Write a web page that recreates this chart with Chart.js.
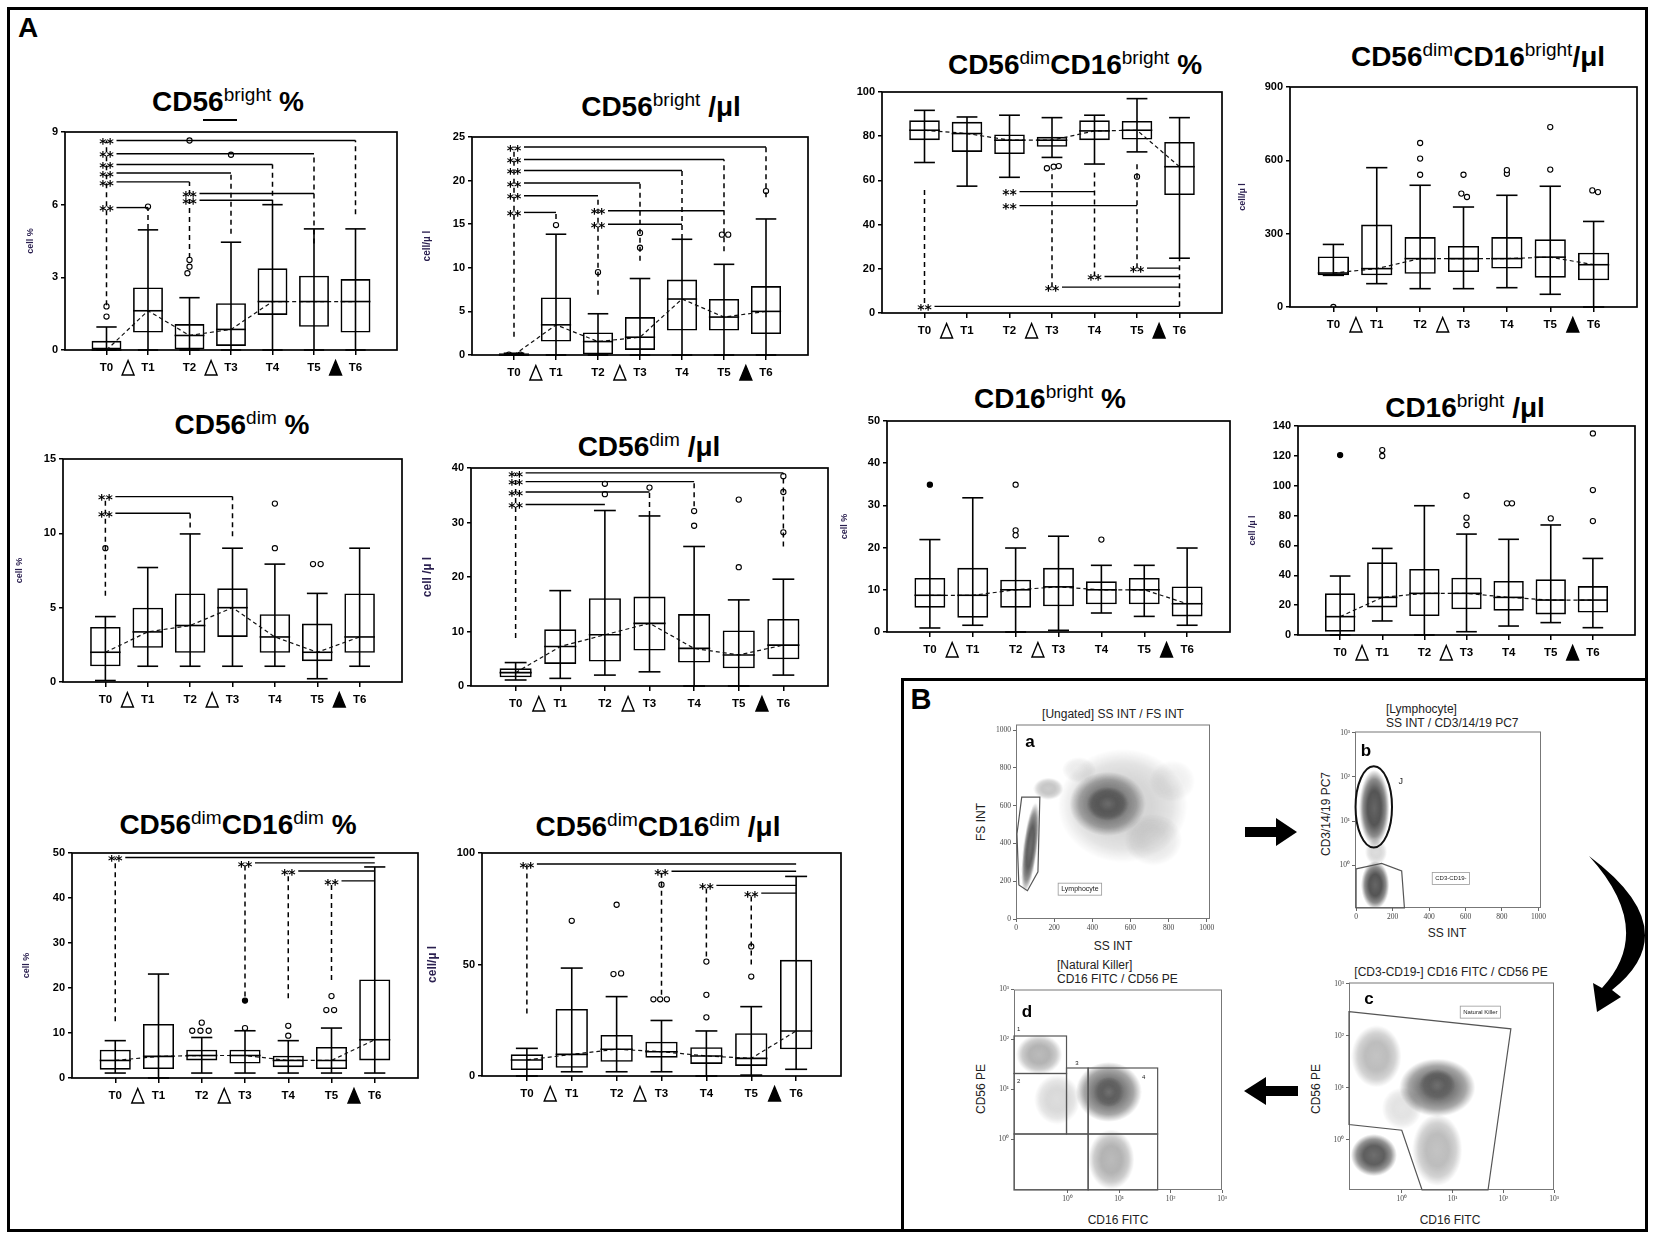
<!DOCTYPE html>
<html><head><meta charset="utf-8">
<script src="https://cdn.jsdelivr.net/npm/chart.js@4.4.1/dist/chart.umd.min.js"></script>
<style>
body{margin:0;background:#fff;width:1654px;height:1234px;position:relative;overflow:hidden;font-family:'Liberation Sans',Arial,sans-serif;}
.t{position:absolute;white-space:nowrap;line-height:1;transform:translate(-50%,-50%);color:#000}
.title{font-weight:bold;font-size:28px}
.title sup{font-size:0.68em;font-weight:normal;vertical-align:0;position:relative;top:-0.5em;line-height:0}
.ft{font-family:'Liberation Sans Narrow','Liberation Sans',sans-serif;font-size:12px;color:#222}
.lt{position:absolute;white-space:nowrap;line-height:1.15;font-family:'Liberation Sans Narrow','Liberation Sans',sans-serif;font-size:12px;color:#222}
</style></head><body>
<div style="position:absolute;left:7px;top:7px;width:1641px;height:1225px;border:3px solid #000;box-sizing:border-box"></div>
<div style="position:absolute;left:901px;top:678px;width:747px;height:554px;border:3px solid #000;box-sizing:border-box"></div>
<div class="t" style="left:28px;top:28px;font-weight:bold;font-size:28px">A</div>
<div class="t" style="left:921px;top:699px;font-weight:bold;font-size:29px">B</div>

<div class="t title" style="left:228px;top:102px">CD56<sup>bright</sup> %</div>
<div style="position:absolute;left:203px;top:119px;width:34px;height:2px;background:#000"></div>
<div class="t title" style="left:661px;top:107px">CD56<sup>bright</sup> /μl</div>
<div class="t title" style="left:1075px;top:65px">CD56<sup>dim</sup>CD16<sup>bright</sup> %</div>
<div class="t title" style="left:1478px;top:57px">CD56<sup>dim</sup>CD16<sup>bright</sup>/μl</div>
<div class="t title" style="left:242px;top:425px">CD56<sup>dim</sup> %</div>
<div class="t title" style="left:649px;top:447px">CD56<sup>dim</sup> /μl</div>
<div class="t title" style="left:1050px;top:399px">CD16<sup>bright</sup> %</div>
<div class="t title" style="left:1465px;top:408px">CD16<sup>bright</sup> /μl</div>
<div class="t title" style="left:238px;top:825px">CD56<sup>dim</sup>CD16<sup>dim</sup> %</div>
<div class="t title" style="left:658px;top:827px">CD56<sup>dim</sup>CD16<sup>dim</sup> /μl</div>

<div class="t ft" style="left:1113px;top:714px">[Ungated] SS INT / FS INT</div>
<div class="lt" style="left:1386px;top:703px">[Lymphocyte]<br>SS INT / CD3/14/19 PC7</div>
<div class="t ft" style="left:1451px;top:972px">[CD3-CD19-] CD16 FITC / CD56 PE</div>
<div class="lt" style="left:1057px;top:959px">[Natural Killer]<br>CD16 FITC / CD56 PE</div>
<div class="t ft" style="left:1113px;top:946px">SS INT</div>
<div class="t ft" style="left:1447px;top:933px">SS INT</div>
<div class="t ft" style="left:1450px;top:1220px">CD16 FITC</div>
<div class="t ft" style="left:1118px;top:1220px">CD16 FITC</div>
<div class="t ft" style="left:981px;top:822px;transform:translate(-50%,-50%) rotate(-90deg)">FS INT</div>
<div class="t ft" style="left:1326px;top:814px;transform:translate(-50%,-50%) rotate(-90deg)">CD3/14/19 PC7</div>
<div class="t ft" style="left:1316px;top:1089px;transform:translate(-50%,-50%) rotate(-90deg)">CD56 PE</div>
<div class="t ft" style="left:981px;top:1089px;transform:translate(-50%,-50%) rotate(-90deg)">CD56 PE</div>
<div class="t" style="left:1030px;top:741px;font-weight:bold;font-size:17px;z-index:2">a</div>
<div class="t" style="left:1366px;top:750px;font-weight:bold;font-size:17px;z-index:2">b</div>
<div class="t" style="left:1369px;top:998px;font-weight:bold;font-size:17px;z-index:2">c</div>
<div class="t" style="left:1027px;top:1011px;font-weight:bold;font-size:17px;z-index:2">d</div>

<svg style="position:absolute;left:0;top:0" width="1654" height="1234">
  <path d="M1245,827 L1276,827 L1276,818 L1297,832 L1276,846 L1276,837 L1245,837 Z" fill="#000"/>
  <path d="M1298,1086 L1266,1086 L1266,1077 L1244,1091 L1266,1105 L1266,1096 L1298,1096 Z" fill="#000"/>
  <path d="M1589,856 Q1688,930 1612,990 L1621,997 L1597,1012 L1593,983 L1602,988 Q1656,930 1589,856 Z" fill="#000"/>
</svg>

<script>
// ---------- shared categories ----------
const categories = ['T0','T1','T2','T3','T4','T5','T6'];
const treatAfter = [0, 2, 5];
const treatFilled = [false, false, true];

// ---------- CD56bright % ----------
const bPct_q1 = [0,0.72,0,0.17,1.45,0.96,0.72];
const bPct_med = [0,1.62,0.6,0.85,2.0,2.0,2.0];
const bPct_q3 = [0.38,2.58,1.07,1.93,3.37,3.07,2.93];
const bPct_lo = [0,0,0,0,0,0,0];
const bPct_hi = [0.95,4.96,2.16,4.45,6.0,5.0,5.0];
const bPct_outX = [0,0,1,1.95,2,2,2,3];
const bPct_outY = [1.38,1.8,5.92,3.17,3.44,3.72,8.65,8.06];
const bPct_sigFrom = [0,0,0,0,0,0,2,2];
const bPct_sigTo = [6,5,4,3,2,1,5,4];
const bPct_sigY = [8.65,8.1,7.66,7.31,6.94,5.88,6.46,6.18];
const bPct_dashX = [0,1,2,3,4,5,6];
const bPct_dashY1 = [1.85,5.0,3.8,4.8,6.0,4.4,5.6];
const bPct_dashY2 = [8.65,5.88,6.94,7.31,7.66,8.1,8.65];

// ---------- CD56bright /ul ----------
const bAbs_q1 = [0,1.54,0,0.58,2.8,2.8,2.4];
const bAbs_med = [0,3.46,1.54,2.04,6.42,4.35,5.0];
const bAbs_q3 = [0.2,6.6,2.58,4.35,8.65,6.42,7.9];
const bAbs_lo = [0,0,0,0,0,0,0];
const bAbs_hi = [0.2,13.85,4.73,8.77,13.27,10.4,15.6];
const bAbs_outX = [-0.12,0.15,1,2,3,3,4.95,5.1,6];
const bAbs_outY = [0.05,0.05,14.9,9.5,12.3,14.0,13.8,13.8,18.8];
const bAbs_sigFrom = [0,0,0,0,0,0,2,2];
const bAbs_sigTo = [6,5,4,3,2,1,5,4];
const bAbs_sigY = [23.85,22.42,21.15,19.73,18.27,16.35,16.54,15.0];
const bAbs_dashX = [0,1,2,3,4,5,6];
const bAbs_dashY1 = [2.1,15.6,6.9,10.8,13.3,11.9,18.1];
const bAbs_dashY2 = [23.85,16.35,18.27,19.73,21.15,22.42,23.85];

// ---------- CD56dimCD16bright % ----------
const dbPct_q1 = [78.2,72.9,71.9,75.2,78.2,78.5,53.4];
const dbPct_med = [82.7,81.2,78.2,78.2,82.4,82.7,66.2];
const dbPct_q3 = [87.2,86.5,80.8,79.7,87.2,86.9,77.4];
const dbPct_lo = [68.1,57.4,61.4,70.4,67.4,72.9,24.8];
const dbPct_hi = [91.7,88.7,89.5,88.4,89.5,97.0,88.4];
const dbPct_outX = [2.88,3.04,3.16,5];
const dbPct_outY = [65.5,66.2,66.5,61.7];
const dbPct_sigFrom = [2,2,5,4,3,0];
const dbPct_sigTo = [4,5,6,6,6,6];
const dbPct_sigY = [54.9,48.6,20.3,16.5,11.7,3.0];
const dbPct_dashX = [0,3,4,5,6];
const dbPct_dashY1 = [4.5,11.7,16.5,20.3,3.0];
const dbPct_dashY2 = [57,64.7,65.4,67.7,24.8];

// ---------- CD56dimCD16bright /ul ----------
const dbAbs_q1 = [129.5,129.5,136,143,157,120,109];
const dbAbs_med = [139,157,198,198,198,204,173];
const dbAbs_q3 = [207,337,286,250,286,277,222];
const dbAbs_lo = [129.5,95.5,75,75,79,52,0];
const dbAbs_hi = [256,570,498,409,457,494,350];
const dbAbs_outX = [0,2,2,2,3,2.95,3.08,4,4,5,5,5.97,6.1];
const dbAbs_outY = [0,671,607,541,541,464,450,545,560,736,562,477,470];

// ---------- CD56dim % ----------
const dPct_q1 = [1.06,2.3,1.96,3.03,1.96,1.4,1.96];
const dPct_med = [2.0,3.37,3.8,5.0,3.03,2.0,3.03];
const dPct_q3 = [3.7,5.0,5.96,6.3,4.56,3.93,5.96];
const dPct_lo = [0.1,1.06,1.06,1.06,1.06,0.22,1.06];
const dPct_hi = [4.4,7.7,9.96,9.0,7.93,5.96,9.0];
const dPct_outX = [0,4,4,4.9,5.08];
const dPct_outY = [9.0,12.0,9.0,7.93,7.93];
const dPct_sigFrom = [0,0];
const dPct_sigTo = [3,2];
const dPct_sigY = [12.47,11.35];
const dPct_dashX = [0,2,3];
const dPct_dashY1 = [5.8,10.4,9.8];
const dPct_dashY2 = [12.47,11.35,12.47];

// ---------- CD56dim /ul ----------
const dAbs_q1 = [1.6,4.05,4.5,6.5,4.3,3.25,4.9];
const dAbs_med = [2.45,7.24,9.4,11.5,6.9,5.7,7.5];
const dAbs_q3 = [3.25,10.4,16.1,16.4,13.2,10.2,12.3];
const dAbs_lo = [1.1,1.4,2.0,2.6,0,0,2.0];
const dAbs_hi = [4.3,17.5,32.2,31.2,25.6,15.8,19.6];
const dAbs_outX = [2,2,3,4,4,5,5,6,6,6];
const dAbs_outY = [37.1,35.2,36.4,32.1,29.4,34.2,21.8,38.5,35.6,28.2];
const dAbs_sigFrom = [0,0,0,0];
const dAbs_sigTo = [6,4,3,2];
const dAbs_sigY = [39.1,37.5,35.6,33.3];
const dAbs_dashX = [0,3,4,6];
const dAbs_dashY1 = [8.8,31.2,33.0,25.6];
const dAbs_dashY2 = [39.1,35.6,37.5,39.1];

// ---------- CD16bright % ----------
const b16Pct_q1 = [5.77,3.4,5.77,6.1,6.56,6.56,3.7];
const b16Pct_med = [8.7,8.7,10.0,10.7,10.0,10.0,6.7];
const b16Pct_q3 = [12.8,15.2,12.4,15.2,12.0,12.8,10.8];
const b16Pct_lo = [0.95,1.6,0,0.4,4.5,3.7,1.6];
const b16Pct_hi = [21.9,31.8,19.9,22.7,15.8,15.8,19.9];
const b16Pct_outX = [0,2,2,2,4];
const b16Pct_outY = [34.9,34.9,24.1,22.9,21.9];
const b16Pct_outF = [1,0,0,0,0];

// ---------- CD16bright /ul ----------
const b16Abs_q1 = [2.2,18.5,12.7,17.2,16.3,13.8,15.0];
const b16Abs_med = [12.3,25.2,27.9,27.9,25.2,23.4,23.4];
const b16Abs_q3 = [27.9,48.7,44.2,38.4,36.2,37.3,32.8];
const b16Abs_lo = [0,9.4,0,2.2,6.0,8.3,4.9];
const b16Abs_hi = [39.5,58,86.6,67.6,64.1,73.7,51.3];
const b16Abs_outX = [0,1,1,3,3,3,3.96,4.08,5,6,6,6];
const b16Abs_outY = [120.5,123.9,119.9,93.3,78.6,73.7,88.2,88.2,78.1,135,97.1,76.3];
const b16Abs_outF = [1,0,0,0,0,0,0,0,0,0,0,0];

// ---------- CD56dimCD16dim % ----------
const ddPct_q1 = [1.85,2.0,3.9,3.2,2.4,2.0,3.9];
const ddPct_med = [3.9,4.8,5.0,5.0,3.9,3.9,8.5];
const ddPct_q3 = [6.3,12.0,6.3,6.3,4.95,6.9,21.9];
const ddPct_lo = [1.1,0,1.1,1.1,1.1,1.1,1.1];
const ddPct_hi = [8.3,23.1,9.0,10.5,8.3,11.1,46.9];
const ddPct_outX = [2,1.78,1.97,2.16,3,3,4,4,5,4.88,5.06];
const ddPct_outY = [12.3,10.5,10.5,10.5,11.1,17.2,11.6,9.4,18.2,15.1,15.1];
const ddPct_outF = [0,0,0,0,0,1,0,0,0,0,0];
const ddPct_sigFrom = [0,3,4,5];
const ddPct_sigTo = [6,6,6,6];
const ddPct_sigY = [49.0,47.8,46.0,43.8];
const ddPct_dashX = [0,3,4,5];
const ddPct_dashY1 = [12.6,18.1,17.7,21.8];
const ddPct_dashY2 = [49.0,47.8,46.0,43.8];

// ---------- CD56dimCD16dim /ul ----------
const ddAbs_q1 = [2.7,3.7,6.4,8.2,5.4,4.5,12.0];
const ddAbs_med = [7.2,9.7,12.0,10.9,9.0,7.9,20.2];
const ddAbs_q3 = [9.7,30.1,18.4,15.4,12.9,19.2,52.1];
const ddAbs_lo = [0,1.9,1.9,1.9,0,0.4,3.0];
const ddAbs_hi = [12.4,48.4,35.6,24.9,20.2,31.1,89.5];
const ddAbs_outX = [1,2,1.93,2.1,2.82,2.97,3.12,3,4,4,4,5,5];
const ddAbs_outY = [69.6,76.8,45.7,46,34.4,34.4,34.4,85.8,26.3,36.4,51.3,44.6,58.1];
const ddAbs_sigFrom = [0,3,4,5];
const ddAbs_sigTo = [6,6,6,6];
const ddAbs_sigY = [95.1,91.8,85.5,82.0];
const ddAbs_dashX = [0,3,4,5];
const ddAbs_dashY1 = [28,36.4,53.6,50];
const ddAbs_dashY2 = [95.1,91.8,85.5,82.0];

// ---------- Flow cytometry (panel B) ----------
const flowLinTicks = [0,200,400,600,800,1000];
const flowLogTicks = [0,1,2,3];
const flowLogLabels = ['10⁰','10¹','10²','10³'];

const flowA_cx = [560,480,480,170,75,720,820,330];
const flowA_cy = [600,610,610,690,380,420,730,790];
const flowA_sx = [340,200,110,80,38,150,120,90];
const flowA_sy = [300,170,90,60,240,140,110,70];
const flowA_d  = [.22,.6,.55,.3,.85,.12,.08,.1];
const flowA_rot = [0,0,0,0,7,0,0,0];
const gateA_x = [30,125,115,60,15,5];
const gateA_y = [645,645,250,150,180,450];

const flowB_cx = [100,105,110];
const flowB_cy = [1.3,-0.45,0.3];
const flowB_sx = [80,75,60];
const flowB_sy = [0.85,0.55,0.3];
const flowB_d  = [.9,.9,.2];
const flowB_rot = [0,0,0];
const gateB_ellipse = [97,1.32,100,0.92];
const gateB_x = [0,140,250,265,0];
const gateB_y = [-0.085,0.04,-0.13,-0.97,-0.97];

const flowC_cx = [0.7,0.7,-0.55,-0.5,0.7,0.0];
const flowC_cy = [1.0,1.05,-0.3,1.6,-0.2,0.6];
const flowC_sx = [0.75,0.35,0.45,0.5,0.5,0.4];
const flowC_sy = [0.55,0.3,0.4,0.6,0.7,0.4];
const flowC_d  = [.7,.45,.85,.35,.35,.15];
const flowC_rot = [0,0,0,0,0,0];
const gateC_x = [-1.04,2.15,1.7,0.4,0,-1.04];
const gateC_y = [2.46,2.13,-0.97,-0.97,0.18,0.29];

const flowD_cx = [0.8,0.8,-0.55,-0.2,0.85];
const flowD_cy = [0.95,0.95,1.7,0.8,-0.4];
const flowD_sx = [0.65,0.3,0.45,0.45,0.45];
const flowD_sy = [0.6,0.3,0.4,0.5,0.6];
const flowD_d  = [.7,.45,.4,.2,.4];
const flowD_rot = [0,0,0,0,0];
const gateD_x1 = [-1.04,-1.04,-0.02,0.4,0.4,-1.04];
const gateD_x2 = [-0.02,-0.02,0.4,1.75,1.75,0.4];
const gateD_y1 = [1.32,0.11,0.11,0.11,-1.01,-1.01];
const gateD_y2 = [2.07,1.32,1.43,1.43,0.11,0.11];

// ================= drawing =================
const PL=60, PT=12, PR=15, PB=33;
function addCanvas(l,t,w,h){
  const d=document.createElement('div');
  d.style.cssText=`position:absolute;left:${l}px;top:${t}px;width:${w}px;height:${h}px`;
  const c=document.createElement('canvas'); d.appendChild(c); document.body.appendChild(d); return c;
}

const boxExtras = {
  id:'boxExtras',
  afterDraw(chart, args, o){
    const {ctx, chartArea:a, scales:{x, y}} = chart;
    const px=v=>x.getPixelForValue(v), py=v=>y.getPixelForValue(v);
    ctx.save();
    ctx.strokeStyle='#000'; ctx.fillStyle='#000'; ctx.setLineDash([]);
    const bw=(px(1)-px(0))*0.72, cw=bw*0.68;
    ctx.lineWidth=1.6;
    o.lo.forEach((lo,i)=>{
      const X=px(i), Yl=py(lo), Yh=py(o.hi[i]), Ym=py(o.med[i]);
      ctx.beginPath(); ctx.moveTo(X,Yl); ctx.lineTo(X,Yh); ctx.stroke();
      ctx.beginPath(); ctx.moveTo(X-cw/2,Yh); ctx.lineTo(X+cw/2,Yh); ctx.stroke();
      ctx.beginPath(); ctx.moveTo(X-cw/2,Yl); ctx.lineTo(X+cw/2,Yl); ctx.stroke();
      ctx.beginPath(); ctx.moveTo(X-bw/2,Ym); ctx.lineTo(X+bw/2,Ym); ctx.stroke();
    });
    ctx.font='bold 14px "DejaVu Sans"'; ctx.textAlign='center'; ctx.textBaseline='middle';
    (o.sigFrom||[]).forEach((f,k)=>{
      const X1=px(f), X2=px(o.sigTo[k]), Y=py(o.sigY[k]);
      ctx.fillText('**', X1, Y+4);
      ctx.lineWidth=1.4; ctx.beginPath(); ctx.moveTo(X1+10,Y); ctx.lineTo(X2,Y); ctx.stroke();
    });
    ctx.setLineDash([5,4]); ctx.lineWidth=1.5;
    (o.dashX||[]).forEach((dx,k)=>{
      const X=px(dx); ctx.beginPath(); ctx.moveTo(X,py(o.dashY1[k])); ctx.lineTo(X,py(o.dashY2[k])); ctx.stroke();
    });
    ctx.setLineDash([]);
    ctx.lineWidth=1.7; ctx.strokeRect(a.left, a.top, a.right-a.left, a.bottom-a.top);
    const ty=a.bottom+18;
    treatAfter.forEach((t,k)=>{
      const X=px(t+0.52);
      ctx.beginPath(); ctx.moveTo(X,ty-7.5); ctx.lineTo(X-6,ty+7); ctx.lineTo(X+6,ty+7); ctx.closePath();
      ctx.lineWidth=1.4; if(treatFilled[k]) ctx.fill(); ctx.stroke();
    });
    if(o.yTitle){
      ctx.translate(a.left-o.yOff,(a.top+a.bottom)/2); ctx.rotate(-Math.PI/2);
      ctx.font=`bold ${o.ySize}px "Liberation Sans"`; ctx.fillStyle='#2a1f4f';
      ctx.fillText(o.yTitle,0,0);
    }
    ctx.restore();
  }
};

function boxChart(fr, D, st){
  const W=fr[2]-fr[0]+PL+PR, H=fr[3]-fr[1]+PT+PB;
  const cv=addCanvas(fr[0]-PL, fr[1]-PT, W, H);
  const idx=categories.map((_,i)=>i);
  const xFont={family:'Liberation Sans', size:11.5, weight:'bold'};
  const yFont={family:'Liberation Sans', size:11, weight:'bold'};
  const outF=D.outF||[];
  return new Chart(cv,{
    type:'bar',
    data:{datasets:[
      {type:'bar', data:idx.map(i=>({x:i,y:[D.q1[i],D.q3[i]]})), backgroundColor:'rgba(255,255,255,0)', borderColor:'#000', borderWidth:1.6, borderSkipped:false, barPercentage:0.72, categoryPercentage:1, order:3},
      {type:'line', data:idx.map(i=>({x:i,y:D.med[i]})), borderColor:'#111', borderWidth:1.2, borderDash:[4,3], pointRadius:0, fill:false, tension:0, order:2},
      {type:'scatter', data:D.outX.map((v,k)=>({x:v,y:D.outY[k]})), pointRadius:2.6, pointBorderWidth:1.1, pointBorderColor:'#000', pointBackgroundColor:D.outX.map((v,k)=>outF[k]?'#000':'#fff'), order:1}
    ]},
    options:{
      responsive:true, maintainAspectRatio:false, animation:false,
      layout:{padding:{left:0,top:PT,right:PR,bottom:0}},
      plugins:{legend:{display:false}, tooltip:{enabled:false},
        boxExtras:{lo:D.lo,hi:D.hi,med:D.med,sigFrom:D.sigFrom,sigTo:D.sigTo,sigY:D.sigY,dashX:D.dashX,dashY1:D.dashY1,dashY2:D.dashY2,yTitle:st.yTitle,yOff:st.yOff,ySize:st.ySize}},
      scales:{
        x:{type:'linear', min:-1, max:7, offset:false, afterFit:s=>{s.height=PB;},
          afterBuildTicks:s=>{ s.ticks=categories.map((_,i)=>({value:i})); },
          ticks:{autoSkip:false, maxRotation:0, padding:6, color:'#000', font:xFont,
            callback:v=>categories[v]},
          grid:{offset:false, drawOnChartArea:false, tickLength:5, lineWidth:1.5, color:'#000'},
          border:{display:false}},
        y:{type:'linear', min:0, max:st.yMax, afterFit:s=>{s.width=PL;},
          ticks:{stepSize:st.yStep, padding:3, color:'#000', font:yFont},
          grid:{drawOnChartArea:false, tickLength:4, lineWidth:1.5, color:'#000'},
          border:{display:false}}
      }
    },
    plugins:[boxExtras]
  });
}

function pack(p){
  const g=n=>window[p+'_'+n];
  return {q1:g('q1'),med:g('med'),q3:g('q3'),lo:g('lo'),hi:g('hi'),outX:g('outX'),outY:g('outY'),outF:g('outF'),
    sigFrom:g('sigFrom'),sigTo:g('sigTo'),sigY:g('sigY'),dashX:g('dashX'),dashY1:g('dashY1'),dashY2:g('dashY2')};
}
Object.assign(window,{bPct_q1,bPct_med,bPct_q3,bPct_lo,bPct_hi,bPct_outX,bPct_outY,bPct_sigFrom,bPct_sigTo,bPct_sigY,bPct_dashX,bPct_dashY1,bPct_dashY2,
 bAbs_q1,bAbs_med,bAbs_q3,bAbs_lo,bAbs_hi,bAbs_outX,bAbs_outY,bAbs_sigFrom,bAbs_sigTo,bAbs_sigY,bAbs_dashX,bAbs_dashY1,bAbs_dashY2,
 dbPct_q1,dbPct_med,dbPct_q3,dbPct_lo,dbPct_hi,dbPct_outX,dbPct_outY,dbPct_sigFrom,dbPct_sigTo,dbPct_sigY,dbPct_dashX,dbPct_dashY1,dbPct_dashY2,
 dbAbs_q1,dbAbs_med,dbAbs_q3,dbAbs_lo,dbAbs_hi,dbAbs_outX,dbAbs_outY,
 dPct_q1,dPct_med,dPct_q3,dPct_lo,dPct_hi,dPct_outX,dPct_outY,dPct_sigFrom,dPct_sigTo,dPct_sigY,dPct_dashX,dPct_dashY1,dPct_dashY2,
 dAbs_q1,dAbs_med,dAbs_q3,dAbs_lo,dAbs_hi,dAbs_outX,dAbs_outY,dAbs_sigFrom,dAbs_sigTo,dAbs_sigY,dAbs_dashX,dAbs_dashY1,dAbs_dashY2,
 b16Pct_q1,b16Pct_med,b16Pct_q3,b16Pct_lo,b16Pct_hi,b16Pct_outX,b16Pct_outY,b16Pct_outF,
 b16Abs_q1,b16Abs_med,b16Abs_q3,b16Abs_lo,b16Abs_hi,b16Abs_outX,b16Abs_outY,b16Abs_outF,
 ddPct_q1,ddPct_med,ddPct_q3,ddPct_lo,ddPct_hi,ddPct_outX,ddPct_outY,ddPct_outF,ddPct_sigFrom,ddPct_sigTo,ddPct_sigY,ddPct_dashX,ddPct_dashY1,ddPct_dashY2,
 ddAbs_q1,ddAbs_med,ddAbs_q3,ddAbs_lo,ddAbs_hi,ddAbs_outX,ddAbs_outY,ddAbs_sigFrom,ddAbs_sigTo,ddAbs_sigY,ddAbs_dashX,ddAbs_dashY1,ddAbs_dashY2});

boxChart([65,132,397,350],   pack('bPct'),  {yMax:9,   yStep:3,   yTitle:'cell %',    yOff:34, ySize:9});
boxChart([472,137,808,355],  pack('bAbs'),  {yMax:25,  yStep:5,   yTitle:'cell/µ l',  yOff:45, ySize:10});
boxChart([882,92,1222,313],  pack('dbPct'), {yMax:100, yStep:20,  yTitle:'',          yOff:40, ySize:9});
boxChart([1290,87,1637,307], pack('dbAbs'), {yMax:900, yStep:300, yTitle:'cell/µ l',  yOff:47, ySize:9});
boxChart([63,459,402,682],   pack('dPct'),  {yMax:15,  yStep:5,   yTitle:'cell %',    yOff:43, ySize:9});
boxChart([471,468,828,686],  pack('dAbs'),  {yMax:40,  yStep:10,  yTitle:'cell /µ l', yOff:43, ySize:12});
boxChart([887,421,1230,632], pack('b16Pct'),{yMax:50,  yStep:10,  yTitle:'cell %',    yOff:42, ySize:9});
boxChart([1298,426,1635,635],pack('b16Abs'),{yMax:140, yStep:20,  yTitle:'cell /µ l', yOff:45, ySize:9});
boxChart([72,853,418,1078],  pack('ddPct'), {yMax:50,  yStep:10,  yTitle:'cell %',    yOff:45, ySize:9});
boxChart([482,853,841,1076], pack('ddAbs'), {yMax:100, yStep:50,  yTitle:'cell/µ l',  yOff:49, ySize:12});

// ---------- flow plots ----------
const FL=42, FT=6, FR=8, FB=20;
const spriteCache={};
function cloudSprite(rx, ry, dens){
  rx=Math.max(2,Math.round(rx)); ry=Math.max(2,Math.round(ry));
  const key=rx+'_'+ry+'_'+dens;
  if(spriteCache[key]) return spriteCache[key];
  const c=document.createElement('canvas'); c.width=rx*2; c.height=ry*2;
  const g=c.getContext('2d');
  g.save(); g.translate(rx,ry); g.scale(rx,ry);
  const gr=g.createRadialGradient(0,0,0,0,0,1);
  gr.addColorStop(0,`rgba(85,85,85,${dens})`);
  gr.addColorStop(0.45,`rgba(45,45,45,${dens*0.9})`);
  gr.addColorStop(0.75,`rgba(25,25,25,${dens*0.55})`);
  gr.addColorStop(1,'rgba(25,25,25,0)');
  g.fillStyle=gr; g.beginPath(); g.arc(0,0,1,0,Math.PI*2); g.fill(); g.restore();
  spriteCache[key]=c; return c;
}
const gatePlugin = {
  id:'gates',
  afterDraw(chart,args,o){
    const {ctx, chartArea:a, scales:{x,y}}=chart;
    const px=v=>x.getPixelForValue(v), py=v=>y.getPixelForValue(v);
    ctx.save();
    ctx.strokeStyle='#777'; ctx.lineWidth=1;
    ctx.strokeRect(a.left+0.5,a.top+0.5,a.right-a.left-1,a.bottom-a.top-1);
    ctx.strokeStyle='#555'; ctx.lineWidth=1.2;
    (o.polys||[]).forEach(p=>{
      ctx.beginPath(); p[0].forEach((vx,i)=>{const X=px(vx),Y=py(p[1][i]); i?ctx.lineTo(X,Y):ctx.moveTo(X,Y);}); ctx.closePath(); ctx.stroke();
    });
    if(o.rects){ const r=o.rects; r[0].forEach((x1,i)=>{
      const X1=px(x1),X2=px(r[1][i]),Y1=py(r[2][i]),Y2=py(r[3][i]); ctx.strokeRect(X1,Y2,X2-X1,Y1-Y2); }); }
    if(o.ellipse){ const e=o.ellipse, cx=px(e[0]), cy=py(e[1]);
      const rx=Math.abs(px(e[0]+e[2])-cx), ry=Math.abs(py(e[1]+e[3])-cy);
      ctx.strokeStyle='#111'; ctx.lineWidth=2; ctx.beginPath(); ctx.ellipse(cx,cy,rx,ry,0,0,Math.PI*2); ctx.stroke(); }
    (o.labels||[]).forEach(l=>{
      const X=px(l[1]), Y=py(l[2]);
      ctx.font=`${l[4]||7}px "Liberation Sans Narrow","Liberation Sans"`; ctx.fillStyle='#222'; ctx.textAlign='center'; ctx.textBaseline='middle';
      if(l[3]){ const w=ctx.measureText(l[0]).width+6; ctx.fillStyle='#fff'; ctx.fillRect(X-w/2,Y-6,w,12); ctx.strokeStyle='#999'; ctx.lineWidth=0.8; ctx.strokeRect(X-w/2,Y-6,w,12); ctx.fillStyle='#222'; }
      ctx.fillText(l[0],X,Y);
    });
    ctx.restore();
  }
};
function flowChart(fr, xr, yr, xLog, yLog, C, g){
  const W=fr[2]-fr[0]+FL+FR, H=fr[3]-fr[1]+FT+FB;
  const cv=addCanvas(fr[0]-FL, fr[1]-FT, W, H);
  const tf={family:'Liberation Sans Narrow', size:7.5};
  const tickVals=isLog=>isLog?flowLogTicks:flowLinTicks;
  const lab=(isLog,v)=>isLog?flowLogLabels[flowLogTicks.indexOf(v)]:String(v);
  return new Chart(cv,{
    type:'bubble',
    data:{datasets:[{data:C.cx.map((v,i)=>({x:v,y:C.cy[i]})), radius:3, borderWidth:0, backgroundColor:'rgba(0,0,0,0)',
      rotation:C.rot,
      pointStyle:(ctx)=>{
        const i=ctx.dataIndex, sx=ctx.chart.scales.x, sy=ctx.chart.scales.y;
        const rx=Math.abs(sx.getPixelForValue(C.cx[i]+C.sx[i])-sx.getPixelForValue(C.cx[i]));
        const ry=Math.abs(sy.getPixelForValue(C.cy[i]+C.sy[i])-sy.getPixelForValue(C.cy[i]));
        return cloudSprite(rx,ry,C.d[i]);
      }}]},
    options:{responsive:true, maintainAspectRatio:false, animation:false,
      layout:{autoPadding:false, padding:{left:0,top:FT,right:FR,bottom:0}},
      plugins:{legend:{display:false}, tooltip:{enabled:false}, gates:g},
      scales:{
        x:{type:'linear', min:xr[0], max:xr[1], afterFit:s=>{s.height=FB;},
          afterBuildTicks:s=>{ s.ticks=tickVals(xLog).map(v=>({value:v})); },
          ticks:{autoSkip:false, maxRotation:0, padding:2, color:'#444', font:tf, callback:v=>lab(xLog,v)},
          grid:{drawOnChartArea:false, tickLength:3, color:'#666'}, border:{display:false}},
        y:{type:'linear', min:yr[0], max:yr[1], afterFit:s=>{s.width=FL;},
          afterBuildTicks:s=>{ s.ticks=tickVals(yLog).map(v=>({value:v})); },
          ticks:{autoSkip:false, padding:2, color:'#444', font:tf, callback:v=>lab(yLog,v)},
          grid:{drawOnChartArea:false, tickLength:3, color:'#666'}, border:{display:false}}
      }},
    plugins:[gatePlugin]
  });
}

flowChart([1016,724,1210,919],[0,1017],[0,1030],false,false,
  {cx:flowA_cx,cy:flowA_cy,sx:flowA_sx,sy:flowA_sy,d:flowA_d,rot:flowA_rot},
  {polys:[[gateA_x,gateA_y]], labels:[['Lymphocyte',335,158,true,7]]});
flowChart([1355,731,1541,908],[-6,1014],[-0.97,3.03],false,true,
  {cx:flowB_cx,cy:flowB_cy,sx:flowB_sx,sy:flowB_sy,d:flowB_d,rot:flowB_rot},
  {polys:[[gateB_x,gateB_y]], ellipse:gateB_ellipse, labels:[['J',245,1.9,false,9],['CD3-CD19-',520,-0.3,true,6]]});
flowChart([1349,982,1554,1190],[-1.04,3],[-0.97,3.02],true,true,
  {cx:flowC_cx,cy:flowC_cy,sx:flowC_sx,sy:flowC_sy,d:flowC_d,rot:flowC_rot},
  {polys:[[gateC_x,gateC_y]], labels:[['Natural Killer',1.55,2.45,true,6]]});
flowChart([1014,989,1222,1190],[-1.04,3],[-1.01,3],true,true,
  {cx:flowD_cx,cy:flowD_cy,sx:flowD_sx,sy:flowD_sy,d:flowD_d,rot:flowD_rot},
  {rects:[gateD_x1,gateD_x2,gateD_y1,gateD_y2], labels:[['1',-0.95,2.2,false,6],['2',-0.95,1.17,false,6],['3',0.18,1.52,false,6],['4',1.48,1.24,false,6]]});
</script>
</body></html>
